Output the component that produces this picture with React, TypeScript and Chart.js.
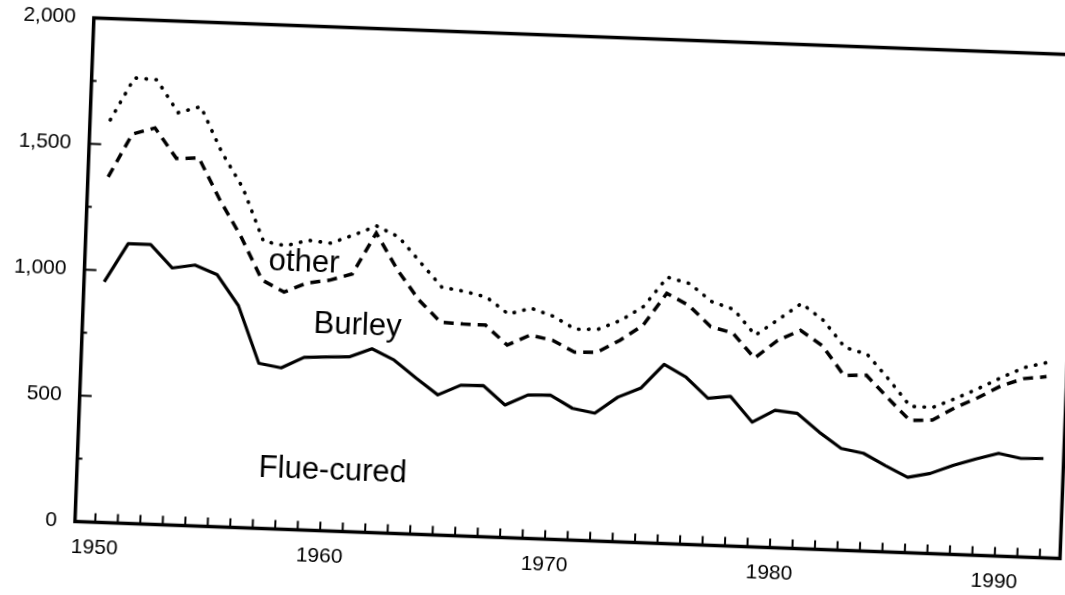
import React, { useEffect, useRef } from 'react';
import { Chart, registerables } from 'chart.js';

Chart.register(...registerables);

// ---- data ----
const years = [
  1950, 1951, 1952, 1953, 1954, 1955, 1956, 1957, 1958, 1959,
  1960, 1961, 1962, 1963, 1964, 1965, 1966, 1967, 1968, 1969,
  1970, 1971, 1972, 1973, 1974, 1975, 1976, 1977, 1978, 1979,
  1980, 1981, 1982, 1983, 1984, 1985, 1986, 1987, 1988, 1989,
  1990, 1991, 1992,
];

// solid line: Flue-cured
const flueCured = [
  955, 1110, 1110, 1020, 1035, 1000, 880, 655, 640, 685,
  690, 694, 729, 688, 620, 556, 598, 600, 526, 569,
  572, 523, 507, 574, 613, 711, 663, 583, 594, 495,
  545, 536, 465, 404, 388, 342, 299, 318, 353, 382,
  408, 391, 394,
];

// dashed line: Flue-cured + Burley
const flueCuredPlusBurley = [
  1372, 1545, 1573, 1455, 1460, 1297, 1154, 986, 941, 980,
  995, 1023, 1189, 1046, 930, 845, 841, 840, 764, 807,
  790, 746, 749, 800, 863, 993, 948, 868, 845, 749,
  823, 866, 808, 694, 698, 610, 525, 530, 583, 626,
  676, 708, 719,
];

// dotted line: all types (Flue-cured + Burley + other)
const allTypes = [
  1598, 1768, 1764, 1637, 1664, 1487, 1348, 1140, 1125, 1150,
  1142, 1178, 1217, 1177, 1080, 984, 971, 951, 887, 914,
  885, 837, 840, 879, 938, 1057, 1035, 967, 939, 840,
  906, 973, 909, 805, 781, 685, 581, 580, 619, 662,
  709, 752, 775,
];

const yTickValues = [0, 500, 1000, 1500, 2000];
const yMinorTickValues = [250, 750, 1250, 1750];
const xLabelYears = [1950, 1960, 1970, 1980, 1990];

// in-chart series labels (anchor = left end of text baseline, in data units)
const seriesLabelTexts = ['Flue-cured', 'Burley', 'other'];
const seriesLabelYears = [1957.17, 1959.37, 1957.27];
const seriesLabelValues = [205, 784, 1027];

const FONT = "'Liberation Sans', Arial, Helvetica, sans-serif";

const frameAndTicks = {
  id: 'frameAndTicks',
  afterDraw(chart: any) {
    const { ctx, chartArea: a, scales } = chart;
    const x = scales.x;
    const y = scales.y;
    ctx.save();
    ctx.strokeStyle = '#000';
    ctx.fillStyle = '#000';
    ctx.lineCap = 'square';
    ctx.lineWidth = 3.5;
    ctx.strokeRect(a.left, a.top, a.right - a.left, a.bottom - a.top);

    ctx.lineWidth = 2;
    ctx.lineCap = 'butt';
    ctx.beginPath();
    years.forEach((v) => {
      const px = x.getPixelForValue(v);
      ctx.moveTo(px, a.bottom);
      ctx.lineTo(px, a.bottom - 9);
    });
    yTickValues.forEach((v) => {
      const py = y.getPixelForValue(v);
      ctx.moveTo(a.left, py);
      ctx.lineTo(a.left + 12, py);
    });
    yMinorTickValues.forEach((v) => {
      const py = y.getPixelForValue(v);
      ctx.moveTo(a.left, py);
      ctx.lineTo(a.left + 5, py);
    });
    ctx.stroke();

    ctx.font = `31px ${FONT}`;
    ctx.textAlign = 'left';
    ctx.textBaseline = 'alphabetic';
    seriesLabelTexts.forEach((t, i) => {
      ctx.fillText(
        t,
        x.getPixelForValue(seriesLabelYears[i]),
        y.getPixelForValue(seriesLabelValues[i])
      );
    });
    ctx.restore();
  },
};

export default function App() {
  const canvasRef = useRef<HTMLCanvasElement | null>(null);

  useEffect(() => {
    if (!canvasRef.current) return;
    const toPoints = (vals: number[]) => years.map((yr, i) => ({ x: yr, y: vals[i] }));
    const chart = new Chart(canvasRef.current, {
      type: 'line',
      data: {
        datasets: [
          {
            label: 'Flue-cured',
            data: toPoints(flueCured),
            borderColor: '#000',
            borderWidth: 3.2,
            pointRadius: 0,
            tension: 0,
            borderJoinStyle: 'round',
          },
          {
            label: 'Burley',
            data: toPoints(flueCuredPlusBurley),
            borderColor: '#000',
            borderWidth: 3.5,
            borderDash: [10, 7],
            pointRadius: 0,
            tension: 0,
          },
          {
            label: 'other',
            data: toPoints(allTypes),
            borderColor: '#000',
            borderWidth: 3.6,
            borderDash: [0.5, 9.5],
            borderCapStyle: 'round',
            pointRadius: 0,
            tension: 0,
          },
        ],
      },
      options: {
        responsive: false,
        animation: false,
        devicePixelRatio: 1,
        layout: { padding: { top: 54.6, right: 15.6, left: 0, bottom: 0 } },
        plugins: { legend: { display: false }, tooltip: { enabled: false } },
        scales: {
          x: {
            type: 'linear',
            min: 1949.1,
            max: 1992.9,
            afterBuildTicks: (s: any) => {
              s.ticks = years.map((v) => ({ value: v }));
            },
            afterFit: (s: any) => {
              s.height = 76.5;
            },
            grid: { display: false, drawTicks: false },
            border: { display: false },
            ticks: {
              autoSkip: false,
              maxRotation: 0,
              padding: 13,
              color: '#000',
              font: { family: FONT, size: 21 },
              callback: (v: any) => (xLabelYears.includes(Number(v)) ? String(v) : ''),
            },
          },
          y: {
            type: 'linear',
            min: 0,
            max: 2000,
            afterBuildTicks: (s: any) => {
              s.ticks = yTickValues.map((v) => ({ value: v }));
            },
            afterFit: (s: any) => {
              s.width = 103.7;
            },
            grid: { display: false, drawTicks: false },
            border: { display: false },
            ticks: {
              padding: 18,
              color: '#000',
              font: { family: FONT, size: 21 },
              callback: (v: any) => Number(v).toLocaleString('en-US'),
            },
          },
        },
      },
      plugins: [frameAndTicks],
    } as any);
    return () => chart.destroy();
  }, []);

  return (
    <div
      style={{
        position: 'fixed',
        left: 0,
        top: 0,
        width: 1065,
        height: 595,
        overflow: 'hidden',
        background: '#fff',
      }}
    >
      <div
        style={{
          position: 'absolute',
          left: -20,
          top: -20,
          width: 1105,
          height: 635,
          transform: 'rotate(2.15deg)',
          transformOrigin: '552.5px 317.5px',
        }}
      >
        <canvas ref={canvasRef} width={1105} height={635} style={{ display: 'block' }} />
      </div>
    </div>
  );
}
